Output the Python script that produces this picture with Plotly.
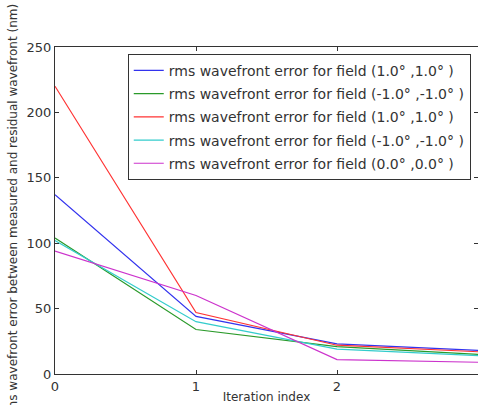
"""RMS wavefront error per iteration for several field points."""

import plotly.graph_objects as go

iterations = [0, 1, 2, 3]

series_names = [
    "rms wavefront error for field (1.0° ,1.0° )",
    "rms wavefront error for field (-1.0° ,-1.0° )",
    "rms wavefront error for field (1.0° ,1.0° )",
    "rms wavefront error for field (-1.0° ,-1.0° )",
    "rms wavefront error for field (0.0° ,0.0° )",
]
blue_vals = [137, 44, 23, 18]
green_vals = [104, 34, 21, 15]
red_vals = [220, 47, 22, 17]
cyan_vals = [102, 40, 19, 14]
magenta_vals = [94, 60, 11, 9]

series_values = [blue_vals, green_vals, red_vals, cyan_vals, magenta_vals]
colors = ["#3333ee", "#2a9a2a", "#ff3333", "#33cccc", "#cc33cc"]

fig = go.Figure()
for i, (name, vals, color) in enumerate(zip(series_names, series_values, colors)):
    fig.add_trace(
        go.Scatter(
            x=iterations,
            y=vals,
            mode="lines",
            name=name,
            legendgroup=f"g{i}",
            line=dict(color=color, width=1.2),
        )
    )

axis_style = dict(
    showline=True,
    linecolor="#333333",
    linewidth=1,
    mirror="ticks",
    ticks="inside",
    ticklen=4,
    tickcolor="#333333",
    showgrid=False,
    zeroline=False,
    automargin=False,
    tickfont=dict(size=13, color="#333333"),
)

fig.update_layout(
    width=478,
    height=405,
    font=dict(family="DejaVu Sans", size=13, color="#333333"),
    plot_bgcolor="white",
    paper_bgcolor="white",
    margin=dict(l=55, r=0, t=47, b=31),
    xaxis=dict(
        range=[0, 3],
        tickvals=[0, 1, 2, 3],
        title=dict(text="Iteration index", font=dict(size=12), standoff=0),
        **axis_style,
    ),
    yaxis=dict(
        range=[0, 250],
        tickvals=[0, 50, 100, 150, 200, 250],
        title=dict(
            text="rms wavefront error between measured and residual wavefront (nm)",
            font=dict(size=12),
            standoff=6,
        ),
        **axis_style,
    ),
    legend=dict(
        x=0.172,
        y=0.979,
        xanchor="left",
        yanchor="top",
        bgcolor="white",
        bordercolor="#333333",
        borderwidth=1,
        font=dict(size=14),
        tracegroupgap=2,
    ),
    showlegend=True,
)

# drop the browser's default 8px body margin so the figure sits at 0,0
fig.write_html(
    "out.html",
    config={"displayModeBar": False},
    post_script="document.body.style.margin='0';",
)
